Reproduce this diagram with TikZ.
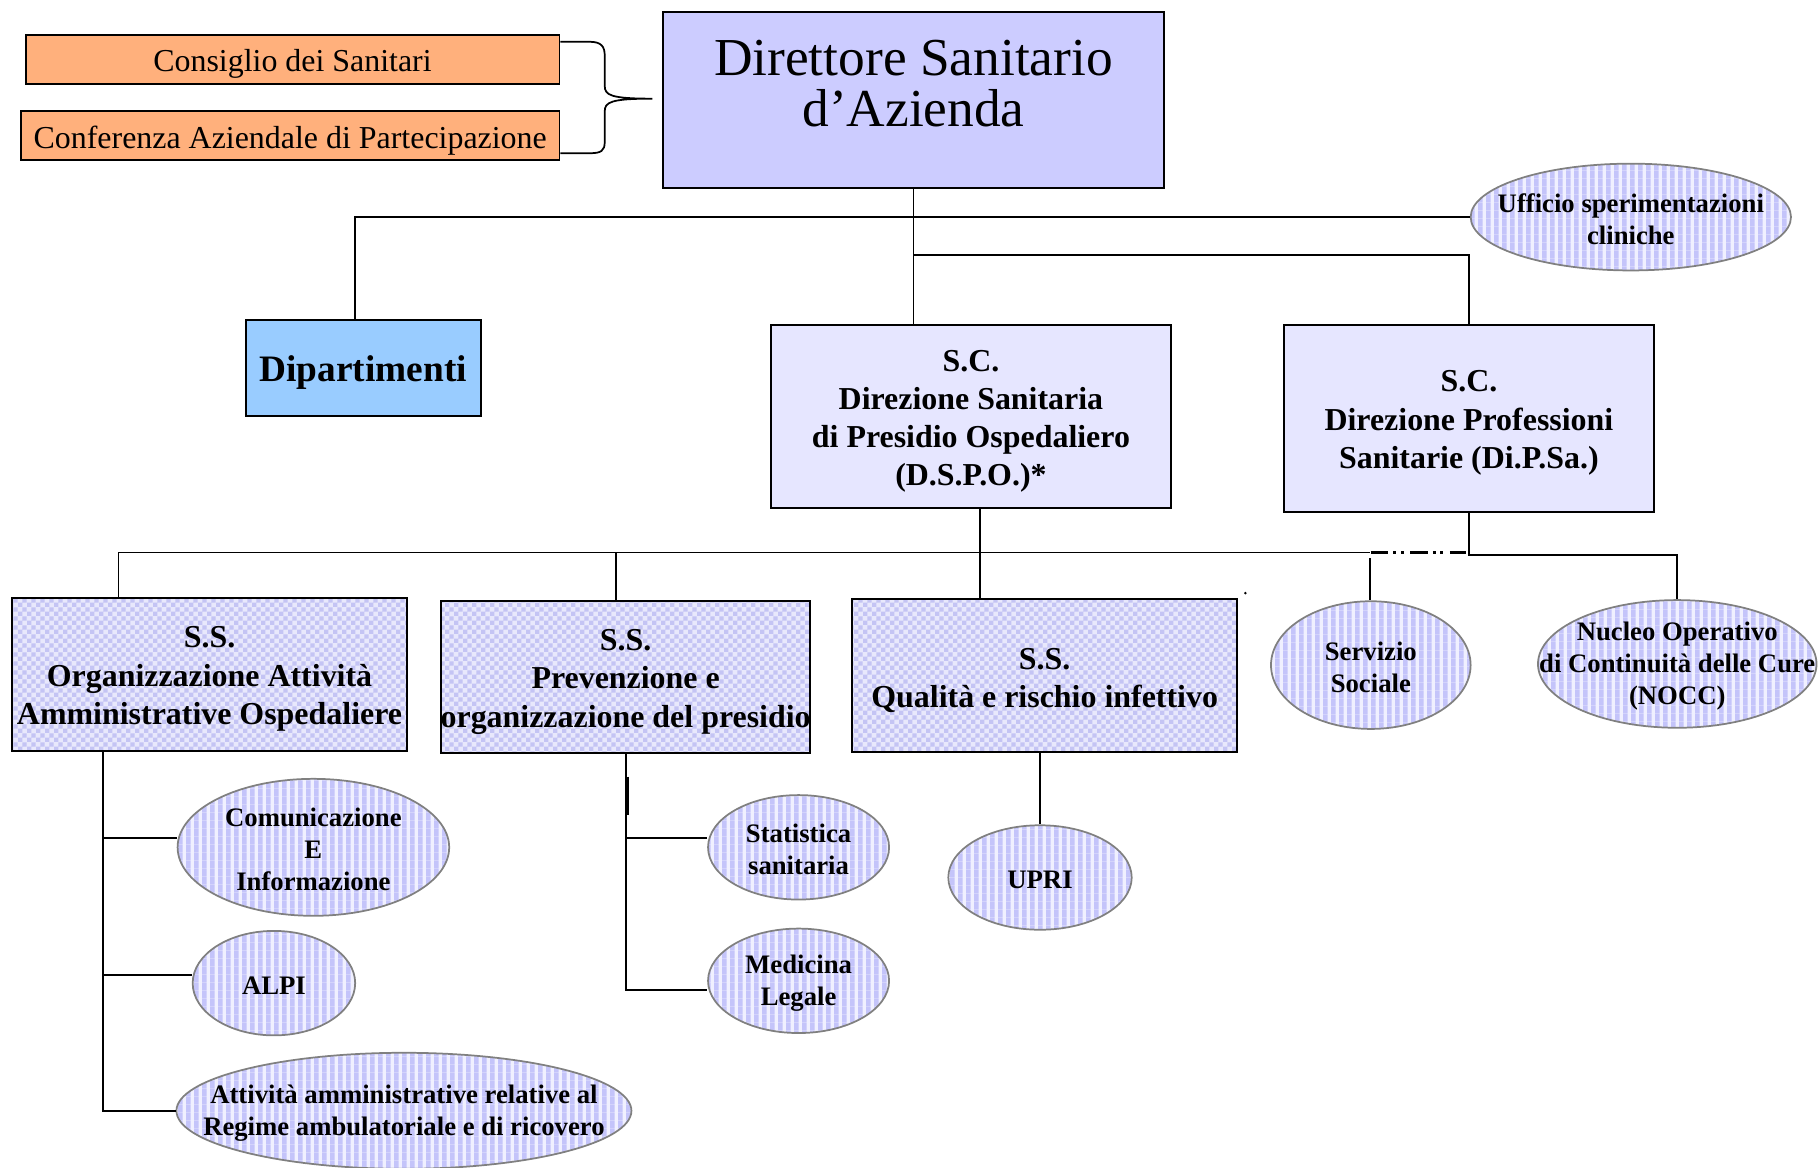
\documentclass[tikz,border=0pt]{standalone}
\usepackage{fontspec}
\setmainfont{Liberation Serif}
\usetikzlibrary{shapes.geometric,patterns,calc}
\definecolor{orcol}{HTML}{FFB07C}
\definecolor{dircol}{HTML}{CCCCFF}
\definecolor{dipcol}{HTML}{99CCFF}
\definecolor{sccol}{HTML}{E6E6FF}
\definecolor{stripebg}{HTML}{F0F0FF}
\definecolor{stripefg}{HTML}{C4C4FA}
\definecolor{ckbg}{HTML}{E8E8FC}
\definecolor{ckfg}{HTML}{C4C4F4}
\definecolor{elline}{HTML}{808080}
\pgfdeclarepatternformonly{vstripes}{\pgfqpoint{0pt}{0pt}}{\pgfqpoint{4.2pt}{4.2pt}}{\pgfqpoint{4.2pt}{4.2pt}}{%
  \pgfpathrectangle{\pgfqpoint{0pt}{-0.1pt}}{\pgfqpoint{2.6pt}{4.4pt}}\pgfusepath{fill}}
\pgfdeclarepatternformonly{checker}{\pgfqpoint{0pt}{0pt}}{\pgfqpoint{4.8pt}{4.8pt}}{\pgfqpoint{4.8pt}{4.8pt}}{%
  \pgfpathrectangle{\pgfqpoint{0pt}{0pt}}{\pgfqpoint{2.4pt}{2.4pt}}%
  \pgfpathrectangle{\pgfqpoint{2.4pt}{2.4pt}}{\pgfqpoint{2.4pt}{2.4pt}}\pgfusepath{fill}}
\newcommand\elfont{\bfseries\fontsize{13.8}{16.5}\selectfont}
\newcommand\bxfont{\bfseries\fontsize{16.5}{19.8}\selectfont}
\newcommand\dirfont{\fontsize{27.6}{26.4}\selectfont}
\newcommand\orfont{\fontsize{16.5}{18}\selectfont}
\newcommand\dipfont{\bfseries\fontsize{19.3}{20}\selectfont}
\tikzset{
  bx/.style n args={2}{draw=black, line width=1pt, minimum width=#1*0.6pt, minimum height=#2*0.6pt, inner sep=0pt},
  obox/.style n args={2}{bx={#1}{#2}, fill=orcol},
  scbox/.style n args={2}{bx={#1}{#2}, fill=sccol},
  ssbox/.style n args={2}{bx={#1}{#2}, preaction={fill=ckbg}, pattern=checker, pattern color=ckfg},
  el/.style n args={2}{ellipse, draw=elline, line width=0.9pt, minimum width=#1*1.2pt, minimum height=#2*1.2pt, inner sep=0pt, preaction={fill=stripebg}, pattern=vstripes, pattern color=stripefg},
  elt/.style={font=\elfont, align=center, inner sep=0pt, yshift=-1.2pt},
  bxt/.style={font=\bxfont, align=center, inner sep=0pt, yshift=-2.4pt},
  ort/.style={font=\orfont, align=center, inner sep=0pt, yshift=-2.4pt},
  dipt/.style={font=\dipfont, align=center, inner sep=0pt, yshift=-2.4pt},
  ln/.style={draw=black, line width=0.9pt},
  dotln/.style={draw=black, line width=1.1pt}
}
\begin{document}
\begin{tikzpicture}[x=0.6pt, y=-0.6pt]
\useasboundingbox (0,0) rectangle (1568,1006);
% top
\node[obox={460}{42}, label={[ort]center:Consiglio dei Sanitari}] (cons) at (252,51) {};
\node[obox={464}{42}, label={[ort]center:Conferenza Aziendale di Partecipazione}] (conf) at (250,117) {};
\node[bx={432}{152}, fill=dircol] (dir) at (787,86) {};
\node[font=\dirfont, align=center, inner sep=0pt] (dirtxt) at (787,72) {Direttore Sanitario\\d’Azienda};
\coordinate (tip) at (562,85);
\draw[ln] (cons.east |- 0,36) -- (508,36) .. controls (518,36) and (521,40) .. (521,48) -- (521,74)
  .. controls (521,82) and (526,85) .. (tip)
  .. controls (526,85) and (521,88) .. (521,96) -- (521,122)
  .. controls (521,130) and (518,132) .. (508,132) -- (conf.east |- 0,132);
\node[el={138}{46}, label={[elt]center:Ufficio sperimentazioni\\cliniche}] (uff) at (1405,187) {};
\node[bx={202}{82}, fill=dipcol, label={[dipt]center:Dipartimenti}] (dip) at (313,317) {};
\node[scbox={345}{158}, label={[bxt]center:S.C.\\Direzione Sanitaria\\di Presidio Ospedaliero\\(D.S.P.O.)*}] (dspo) at (836.5,359) {};
\node[scbox={319}{161}, label={[bxt]center:S.C.\\Direzione Professioni\\Sanitarie (Di.P.Sa.)}] (dipsa) at (1265.5,360.5) {};
% upper connectors
\coordinate (j1) at (306,187);
\draw[ln] (dir.south) -- (dir.south |- dspo.north);
\draw[ln] (uff.west) -- (uff.west -| j1) -- (j1 |- dip.north);
\draw[ln] (dir.south |- 0,220) -| (dipsa.north);
% middle row
\node[ssbox={341}{132}, label={[bxt]center:S.S.\\Organizzazione Attività\\Amministrative Ospedaliere}] (ss1) at (180.5,581) {};
\node[ssbox={318}{131}, label={[bxt]center:S.S.\\Prevenzione e\\organizzazione del presidio}] (ss2) at (539,583.5) {};
\node[ssbox={332}{132}, label={[bxt]center:S.S.\\Qualità e rischio infettivo}] (ss3) at (900,582) {};
\node[el={86}{55}, label={[elt]center:Servizio\\Sociale}] (soc) at (1181,573) {};
\node[el={120}{55}, label={[elt]center:Nucleo Operativo\\di Continuità delle Cure\\(NOCC)}] (nocc) at (1445,572) {};
\coordinate (bl) at (102,476);
\coordinate (b2) at (531,476);
\coordinate (d1) at (844,476);
\coordinate (br) at (1180,476);
\coordinate (d2) at (1265.5,478);
\coordinate (sd) at (1180,481);
\draw[ln] (d1 |- dspo.south) -- (d1);
\draw[ln] (bl) -- (br);
% dash-dot-dot continuation
\draw[dotln] (br) ++(1,0) -- ++(15,0) ++(4.5,0) -- ++(2.5,0) ++(4,0) -- ++(2.5,0)
  ++(5.5,0) -- ++(15,0) ++(4.5,0) -- ++(2.5,0) ++(4,0) -- ++(2.5,0) ++(5.5,0) -- ++(14,0);
\draw[ln] (bl) -- (bl |- ss1.north);
\draw[ln] (b2) -- (b2 |- ss2.north);
\draw[ln] (d1) -- (d1 |- ss3.north);
\draw[ln] (sd) -- (sd |- soc.north);
\draw[ln] (dipsa.south) -- (d2) -| (nocc.north);
\fill (1073,511) circle (1.2);
% bottom
\node[el={117}{59}, label={[elt]center:Comunicazione\\E\\Informazione}] (com) at (270,730) {};
\node[el={70}{45}, label={[elt]center:ALPI}] (alpi) at (236,847) {};
\node[el={196}{50}, label={[elt]center:Attività amministrative relative al\\Regime ambulatoriale e di ricovero}] (att) at (348,957) {};
\node[el={78}{45}, label={[elt]center:Statistica\\sanitaria}] (stat) at (688,730) {};
\node[el={78}{45}, label={[elt]center:Medicina\\Legale}] (med) at (688,845) {};
\node[el={79}{45}, label={[elt]center:UPRI}] (upri) at (896,756) {};
\coordinate (v1) at (89,957);
\coordinate (v2) at (539,853);
\draw[ln] (v1 |- ss1.south) -- (v1) -- (att.west);
\draw[ln] (v1 |- 0,722) -- (com.west |- 0,722);
\draw[ln] (v1 |- 0,840) -- (alpi.west |- 0,840);
\draw[ln] (v2 |- ss2.south) -- (v2) -- (med.west |- v2);
\draw[ln] (v2 |- 0,722) -- (stat.west |- 0,722);
\draw[line width=1.8pt] (540,669) -- (540,702);
\draw[ln] (upri.north |- ss3.south) -- (upri.north);
\end{tikzpicture}
\end{document}
